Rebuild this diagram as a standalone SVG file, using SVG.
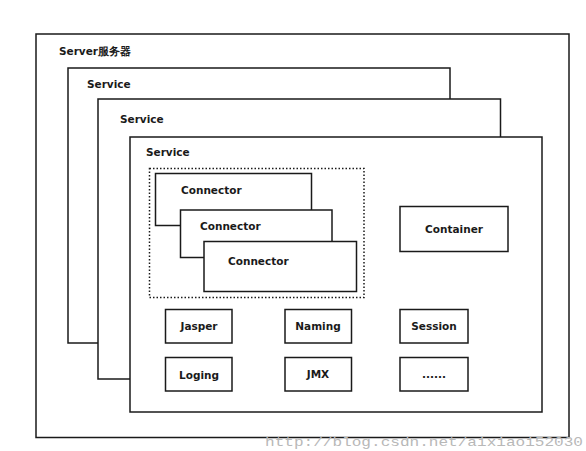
<svg xmlns="http://www.w3.org/2000/svg" width="586" height="451" viewBox="0 0 586 451">
<style>
.b{fill:#fff;stroke:#1a1a1a;stroke-width:1.5}
.t{font-family:"DejaVu Sans",Verdana,sans-serif;font-weight:bold;font-size:10.5px;fill:#1a1a1a}
.c{text-anchor:middle}
.d{fill:none;stroke:#1a1a1a;stroke-width:1.5;stroke-dasharray:1.5 2}
.w{font-family:"Liberation Mono",monospace;font-size:13px;fill:#b8b8b8}
</style>
<rect width="586" height="451" fill="#fff"/>
<g id="server"><rect class="b" x="36" y="34" width="533" height="403.5"/><text class="t" x="59" y="55">Server服务器</text></g>
<g id="service1"><rect class="b" x="68" y="68" width="382" height="275"/><text class="t" x="87" y="88">Service</text></g>
<g id="service2"><rect class="b" x="98" y="99" width="402.5" height="280"/><text class="t" x="120" y="123">Service</text></g>
<g id="service3"><rect class="b" x="130" y="137" width="412" height="275"/><text class="t" x="146" y="156">Service</text></g>
<g id="connectors-group"><rect class="d" x="149.5" y="168.5" width="214.5" height="129"/></g>
<g id="connector1"><rect class="b" x="155.5" y="173.5" width="156" height="52"/><text class="t" x="181" y="194">Connector</text></g>
<g id="connector2"><rect class="b" x="180.5" y="210" width="151.5" height="47.5"/><text class="t" x="200" y="230">Connector</text></g>
<g id="connector3"><rect class="b" x="204" y="241.5" width="152.5" height="50"/><text class="t" x="228" y="265">Connector</text></g>
<g id="container"><rect class="b" x="400" y="206.5" width="108" height="45"/><text class="t c" x="454" y="233">Container</text></g>
<g id="jasper"><rect class="b" x="165.5" y="309.5" width="66.5" height="33.5"/><text class="t c" x="199" y="330">Jasper</text></g>
<g id="naming"><rect class="b" x="285" y="309.5" width="66.5" height="33.5"/><text class="t c" x="318" y="330">Naming</text></g>
<g id="session"><rect class="b" x="400" y="309.5" width="68" height="33.5"/><text class="t c" x="434" y="330">Session</text></g>
<g id="loging"><rect class="b" x="165.5" y="357.5" width="66.5" height="33.5"/><text class="t c" x="199" y="379">Loging</text></g>
<g id="jmx"><rect class="b" x="285" y="357.5" width="66.5" height="33.5"/><text class="t c" x="318" y="378">JMX</text></g>
<g id="more"><rect class="b" x="400" y="357.5" width="68" height="33.5"/><text class="t c" x="434" y="378">......</text></g>
<g id="edges"></g>
<text class="w" x="265" y="446" textLength="318" lengthAdjust="spacingAndGlyphs">http://blog.csdn.net/aixiaoi52030</text>
</svg>
